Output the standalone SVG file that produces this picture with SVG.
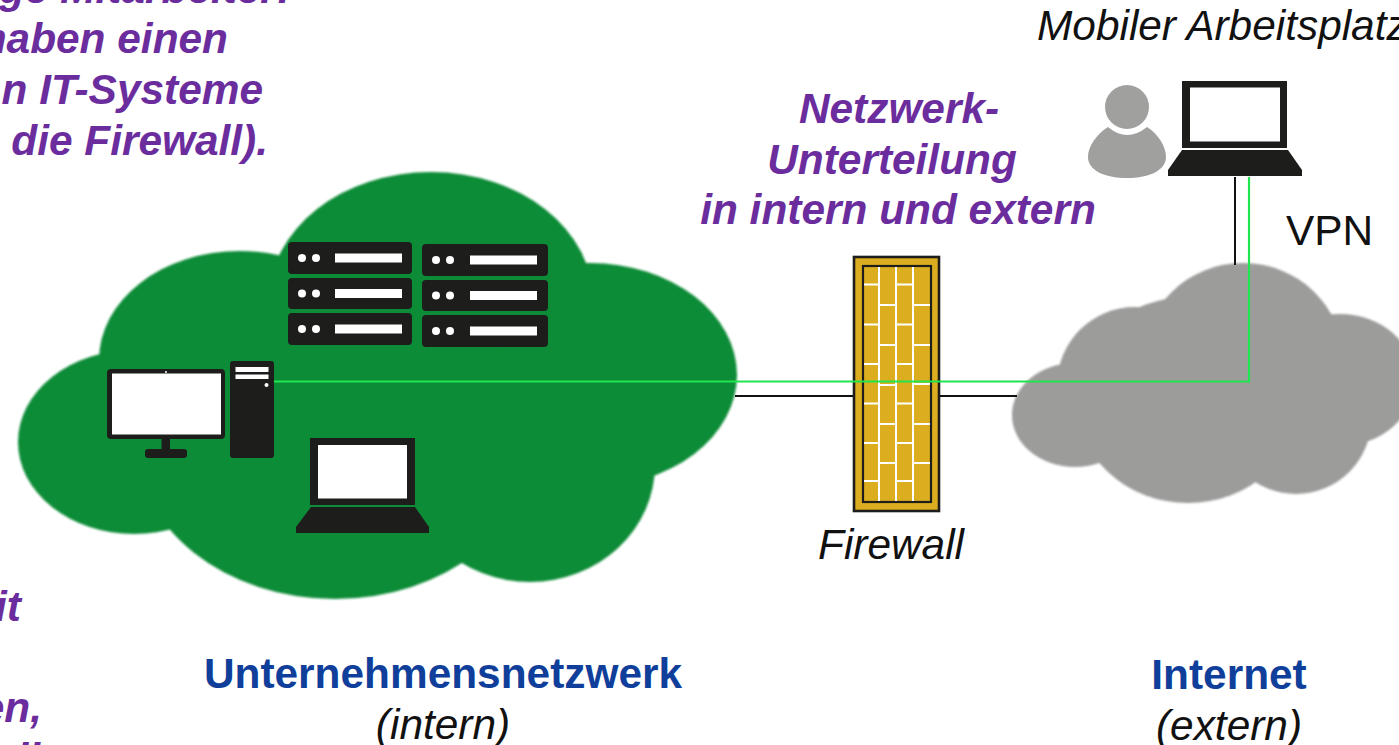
<svg xmlns="http://www.w3.org/2000/svg" width="1399" height="745" viewBox="0 0 1399 745">
<style>
text{font-family:"Liberation Sans",Arial,sans-serif;font-size:42.4px}
.p{fill:#6b2d9e;font-weight:bold;font-style:italic}
.b{fill:#0f3f9a;font-weight:bold}
.i{fill:#111;font-style:italic}
.d{fill:#1d1d1b}
.w{fill:#fff}
.brick{stroke:#fff;stroke-width:2;fill:none}
</style>
<defs><filter id="soft" filterUnits="userSpaceOnUse" x="0" y="150" width="1399" height="470"><feGaussianBlur stdDeviation="0.8"/></filter></defs>
<rect width="1399" height="745" fill="#fff"/>
<g id="note-top">
<text class="p" x="291" y="3" text-anchor="end">nge Mitarbeiter:</text>
<text class="p" x="228" y="53" text-anchor="end">haben einen</text>
<text class="p" x="263" y="104" text-anchor="end">n IT-Systeme</text>
<text class="p" x="268" y="155" text-anchor="end">die Firewall).</text>
</g>
<g id="note-bottom">
<text class="p" x="21" y="621" text-anchor="end">it</text>
<text class="p" x="42" y="722" text-anchor="end">en,</text>
<text class="p" x="40" y="773" text-anchor="end">ll</text>
</g>
<g id="cloud-intern" fill="#0e8c37" filter="url(#soft)">
<ellipse cx="134" cy="442" rx="116" ry="92"/>
<ellipse cx="240" cy="360" rx="141" ry="109"/>
<ellipse cx="431" cy="300" rx="162" ry="128"/>
<ellipse cx="590" cy="375" rx="147" ry="112"/>
<ellipse cx="530" cy="465" rx="125" ry="117"/>
<ellipse cx="335" cy="440" rx="200" ry="159"/>
</g>
<g id="cloud-internet" fill="#9c9c9b" filter="url(#soft)">
<ellipse cx="1075" cy="415" rx="63" ry="52"/>
<ellipse cx="1135" cy="385" rx="78" ry="78"/>
<ellipse cx="1243" cy="360" rx="100" ry="97"/>
<ellipse cx="1340" cy="380" rx="75" ry="66"/>
<ellipse cx="1296" cy="420" rx="75" ry="74"/>
<ellipse cx="1188" cy="400" rx="112" ry="103"/>
</g>
<g id="connectors" fill="none">
<path stroke="#111" stroke-width="2" d="M735 396H856M937 396H1017M1235 177V265"/>
</g>
<g id="firewall">
<rect x="854" y="257" width="85" height="254" fill="#dcae1f" stroke="#1d1d1b" stroke-width="2.600"/>
<rect x="863" y="266" width="68" height="236" fill="#dcae1f" stroke="#1d1d1b" stroke-width="2.200"/>
<path class="brick" d="M879 267V501M896 267V501M913 267V501M864 284.500H879M864 324.500H879M864 364H879M864 403.500H879M864 443H879M864 481H879M896 284.500H913M896 324.500H913M896 364H913M896 403.500H913M896 443H913M896 481H913M879 305H896M879 345H896M879 385H896M879 424H896M879 463H896M913 305H930M913 345H930M913 384H930M913 424H930M913 463H930"/>
</g>
<g id="vpn-line" fill="none">
<path stroke="#1fe64f" stroke-width="2.200" d="M274 381.500H1249V177"/>
</g>
<g id="servers-left">
<rect class="d" x="288" y="242" width="124" height="32" rx="4"/><rect class="d" x="288" y="278" width="124" height="31" rx="4"/><rect class="d" x="288" y="313" width="124" height="32" rx="4"/>
<circle class="w" cx="302" cy="258" r="4"/><circle class="w" cx="316" cy="258" r="4"/><rect class="w" x="335" y="253.500" width="67" height="9"/>
<circle class="w" cx="302" cy="293.500" r="4"/><circle class="w" cx="316" cy="293.500" r="4"/><rect class="w" x="335" y="289" width="67" height="9"/>
<circle class="w" cx="302" cy="329" r="4"/><circle class="w" cx="316" cy="329" r="4"/><rect class="w" x="335" y="324.500" width="67" height="9"/>
</g>
<g id="servers-right">
<rect class="d" x="422" y="244" width="126" height="32" rx="4"/><rect class="d" x="422" y="280" width="126" height="31" rx="4"/><rect class="d" x="422" y="315" width="126" height="32" rx="4"/>
<circle class="w" cx="436" cy="260" r="4"/><circle class="w" cx="450" cy="260" r="4"/><rect class="w" x="470" y="255.500" width="67" height="9"/>
<circle class="w" cx="436" cy="295.500" r="4"/><circle class="w" cx="450" cy="295.500" r="4"/><rect class="w" x="470" y="291" width="67" height="9"/>
<circle class="w" cx="436" cy="331" r="4"/><circle class="w" cx="450" cy="331" r="4"/><rect class="w" x="470" y="326.500" width="67" height="9"/>
</g>
<g id="workstation">
<rect class="d" x="107" y="369" width="118" height="70" rx="4"/><rect class="w" x="112" y="373.500" width="109" height="61"/><circle class="w" cx="166" cy="372" r="1"/>
<rect class="d" x="161.500" y="439" width="8.500" height="11"/><rect class="d" x="145" y="449" width="42" height="9" rx="3"/>
<rect class="d" x="230" y="361" width="44" height="97" rx="3"/><rect class="w" x="235.500" y="367" width="33" height="5"/><rect class="w" x="235.500" y="374.500" width="33" height="4.500"/><circle class="w" cx="266.500" cy="385" r="2"/>
</g>
<g id="laptop-intern">
<rect class="d" x="310" y="438" width="105" height="67"/><rect class="w" x="318" y="445" width="89" height="53.500"/>
<path class="d" d="M311 507H415L429 527V533H296V527Z"/>
</g>
<g id="laptop-mobile">
<rect class="d" x="1182" y="81" width="105" height="67"/><rect class="w" x="1190" y="87.500" width="90" height="54"/>
<path class="d" d="M1182 150H1288L1302 170V176H1168V170Z"/>
</g>
<g id="user">
<circle fill="#a0a09f" cx="1127" cy="107" r="22"/>
<path fill="#a0a09f" d="M1108 127Q1127 143 1147 127C1158 134 1166 146 1166 157C1166 170 1150 178 1127 178C1104 178 1088 170 1088 157C1088 146 1097 134 1108 127Z"/>
</g>
<g id="labels">
<text class="p" x="899" y="123" text-anchor="middle">Netzwerk-</text>
<text class="p" x="892" y="174" text-anchor="middle">Unterteilung</text>
<text class="p" x="898" y="224" text-anchor="middle">in intern und extern</text>
<text class="i" x="891" y="559" text-anchor="middle">Firewall</text>
<text class="i" x="1037" y="40">Mobiler Arbeitsplatz</text>
<text x="1286" y="245" fill="#111">VPN</text>
<text class="b" x="443" y="688" text-anchor="middle">Unternehmensnetzwerk</text>
<text class="i" x="443" y="739" text-anchor="middle">(intern)</text>
<text class="b" x="1229" y="689" text-anchor="middle">Internet</text>
<text class="i" x="1229" y="740" text-anchor="middle">(extern)</text>
</g>
</svg>
